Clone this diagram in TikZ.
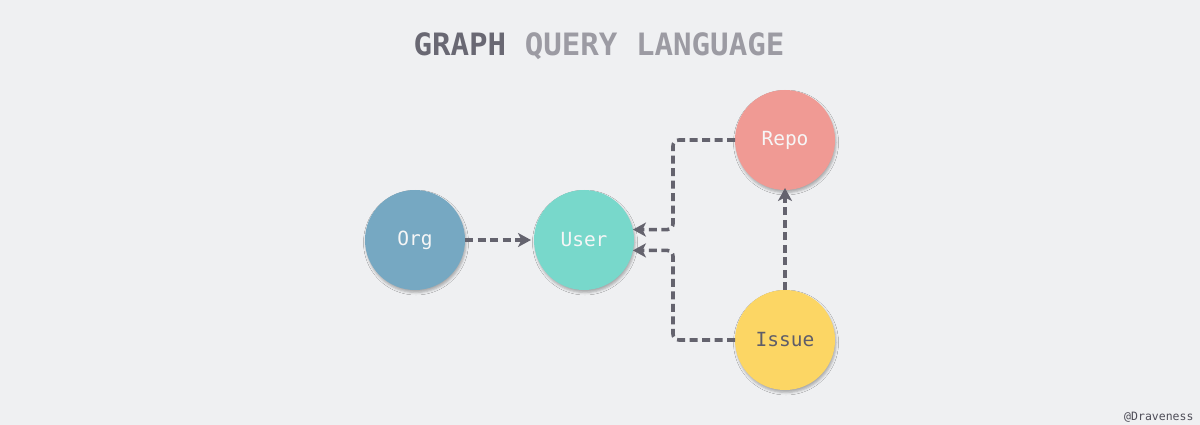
\documentclass[tikz,border=0pt]{standalone}
\usepackage{fontspec}
\setmonofont{DejaVu Sans Mono}
\usetikzlibrary{arrows.meta,shadows.blur}
\definecolor{bg}{HTML}{EFF0F2}
\definecolor{lineC}{HTML}{64636E}
\definecolor{titleDark}{HTML}{696873}
\definecolor{titleLight}{HTML}{9C9BA3}
\definecolor{orgC}{HTML}{76A8C2}
\definecolor{userC}{HTML}{78D8CB}
\definecolor{repoC}{HTML}{F09A94}
\definecolor{issueC}{HTML}{FCD664}
\definecolor{labelW}{HTML}{F6F6F6}
\definecolor{labelD}{HTML}{5E5D69}
\definecolor{markC}{HTML}{4E4D58}
\tikzset{
  entity/.style={circle, minimum size=100pt, inner sep=0pt, outer sep=0pt,
    font=\ttfamily\fontsize{19.5}{22}\selectfont,
    blur shadow={shadow xshift=1pt, shadow yshift=-2.5pt, shadow blur radius=2.5pt, shadow opacity=30}},
  conn/.style={draw=lineC, line width=3.6pt, dash pattern=on 8pt off 4.5pt,
    rounded corners=6pt, -{Stealth[length=13pt,width=14pt,inset=3.5pt]}}
}
\begin{document}
\begin{tikzpicture}[x=1pt,y=-1pt]
\fill[bg] (0,0) rectangle (1200,425);
\useasboundingbox (0,0) rectangle (1200,425);
\node[anchor=base, font=\ttfamily\bfseries\fontsize{30.8}{36}\selectfont] (title) at (599,56)
  {\textcolor{titleDark}{GRAPH} \textcolor{titleLight}{QUERY LANGUAGE}};
\node[entity, fill=orgC, text=labelW] (org) at (415,240) {Org};
\node[entity, fill=userC, text=labelW] (user) at (584,240) {User};
\node[entity, fill=repoC, text=labelW] (repo) at (785,140) {Repo};
\node[entity, fill=issueC, text=labelD] (issue) at (785,340) {Issue};
\coordinate (jx) at (673,0);
\draw[conn] (org.east) -- ([xshift=-3pt]user.west);
\draw[conn] (repo.west) -| (jx |- user.12) -- (user.12);
\draw[conn] (issue.west) -| (jx |- user.-12) -- (user.-12);
\draw[conn] (issue.north) -- ([yshift=2pt]repo.south);
\node[anchor=base east, font=\ttfamily\fontsize{11.5}{13}\selectfont, text=markC] (mark) at (1197,420) {@Draveness};
\end{tikzpicture}
\end{document}
